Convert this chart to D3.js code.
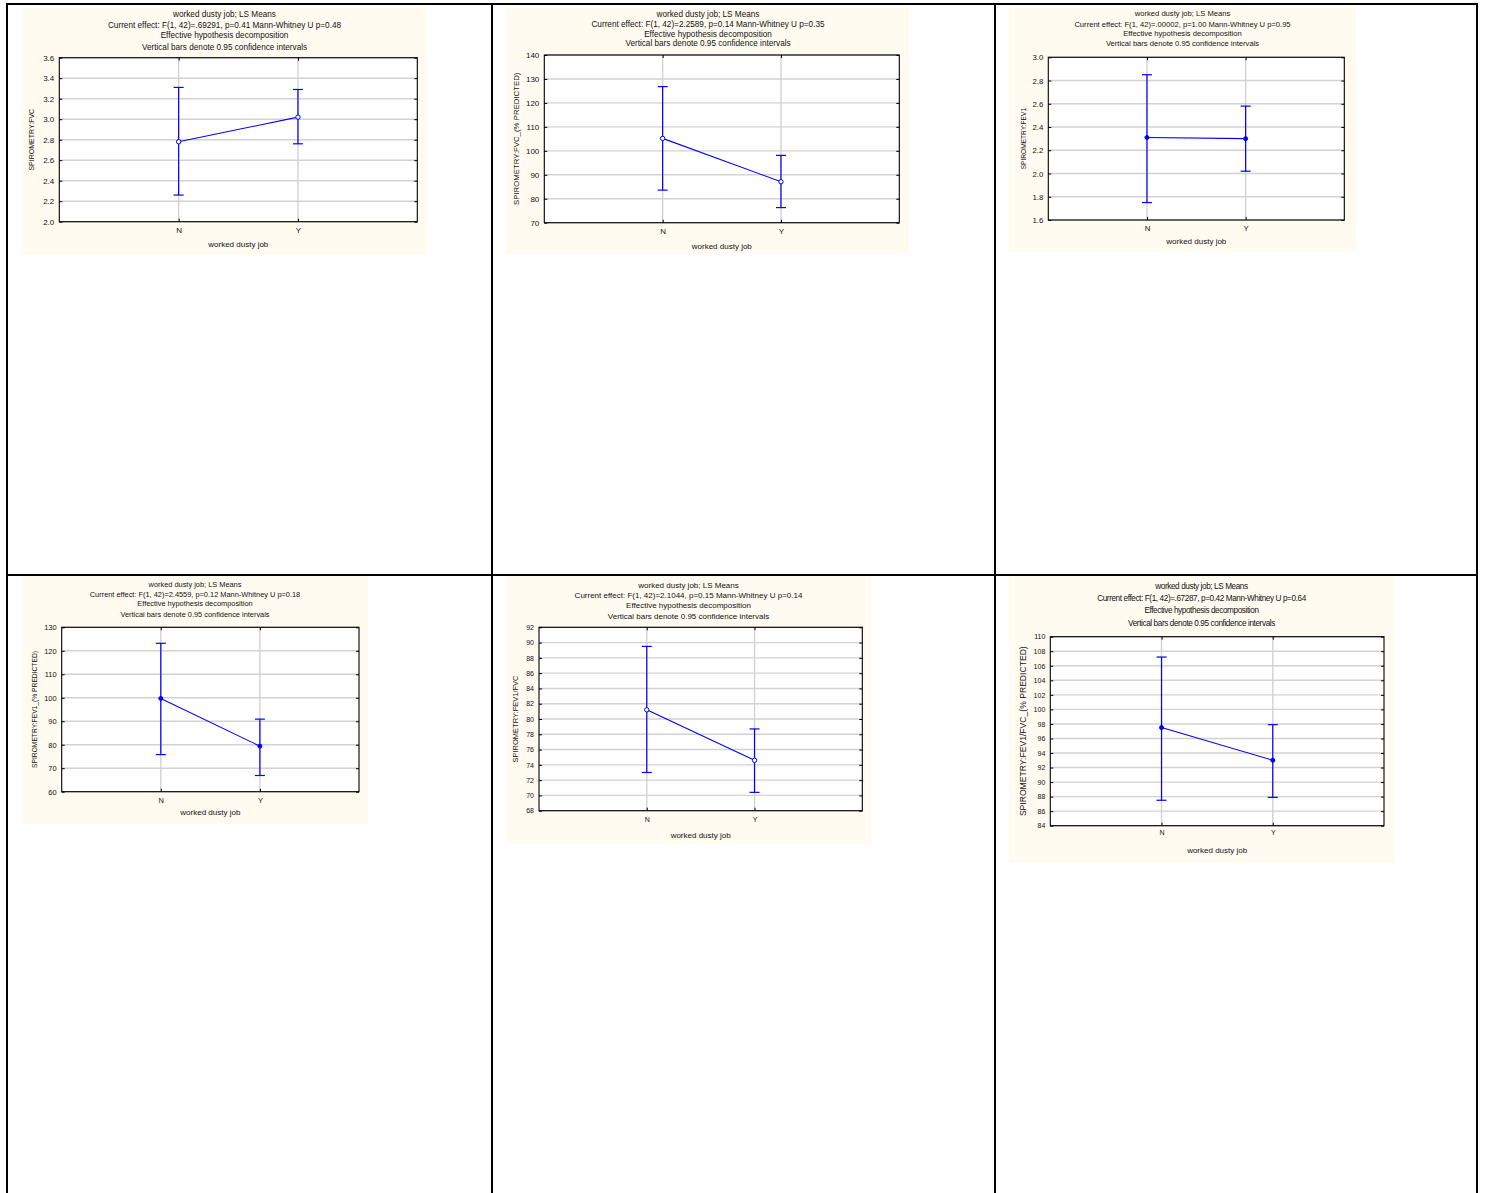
<!DOCTYPE html>
<html>
<head>
<meta charset="utf-8">
<script src="https://cdn.jsdelivr.net/npm/d3@7"></script>
<style>
  body { margin: 0; background: #fff; }
  svg { display: block; font-family: "Liberation Sans", Arial, sans-serif; }
</style>
</head>
<body>
<div id="container"></div>
<script>
//DATA
const categories = ["N", "Y"];
const titleLine = "worked dusty job; LS Means";
const effectLines = [
  "Current effect: F(1, 42)=.69291, p=0.41 Mann-Whitney U p=0.48",
  "Current effect: F(1, 42)=2.2589, p=0.14 Mann-Whitney U p=0.35",
  "Current effect: F(1, 42)=.00002, p=1.00 Mann-Whitney U p=0.95",
  "Current effect: F(1, 42)=2.4559, p=0.12 Mann-Whitney U p=0.18",
  "Current effect: F(1, 42)=2.1044, p=0.15 Mann-Whitney U p=0.14",
  "Current effect: F(1, 42)=.67287, p=0.42 Mann-Whitney U p=0.64"
];
const decompLine = "Effective hypothesis decomposition";
const barsLine = "Vertical bars denote 0.95 confidence intervals";
const xLabel = "worked dusty job";
const yLabels = [
  "SPIROMETRY:FVC",
  "SPIROMETRY:FVC_(% PREDICTED)",
  "SPIROMETRY:FEV1",
  "SPIROMETRY:FEV1_(% PREDICTED)",
  "SPIROMETRY:FEV1/FVC",
  "SPIROMETRY:FEV1/FVC_(% PREDICTED)"
];
// LS means and 0.95 CI, [N, Y]
const means  = [[2.78, 3.02], [105.2, 87.1], [2.31, 2.30], [99.7, 79.4], [81.2, 74.6], [97.5, 93.0]];
const lowers = [[2.26, 2.76], [83.6, 76.3],  [1.75, 2.02], [75.8, 66.9], [73.0, 70.4], [87.5, 87.9]];
const uppers = [[3.31, 3.29], [126.8, 98.1], [2.85, 2.58], [123.2, 90.9], [89.5, 78.7], [107.2, 97.9]];
const yDomains = [[2.0, 3.6], [70, 140], [1.6, 3.0], [60, 130], [68, 92], [84, 110]];
const yTicks = [
  [2.0, 2.2, 2.4, 2.6, 2.8, 3.0, 3.2, 3.4, 3.6],
  [70, 80, 90, 100, 110, 120, 130, 140],
  [1.6, 1.8, 2.0, 2.2, 2.4, 2.6, 2.8, 3.0],
  [60, 70, 80, 90, 100, 110, 120, 130],
  [68, 70, 72, 74, 76, 78, 80, 82, 84, 86, 88, 90, 92],
  [84, 86, 88, 90, 92, 94, 96, 98, 100, 102, 104, 106, 108, 110]
];
const tickFormats = [".1f", "d", ".1f", "d", "d", "d"];

//LAYOUT
const width = 1485, height = 1193;
const panels = [
  {bg: [22, 8, 427, 255], plot: [59.3, 57.7, 417.3, 221.7], titleY: [13.7, 24.7, 35, 46.7],
   tickY: 230.7, xLabY: 244, yLabX: 32, yLabSize: 7, titleSize: 8.2, tickSize: 8, ls: 0, hollow: true},
  {bg: [506, 8, 910, 254], plot: [544.3, 55, 899.3, 222.7], titleY: [13.7, 24, 33.7, 43.3],
   tickY: 231.3, xLabY: 245.7, yLabX: 516, yLabSize: 7.8, titleSize: 8.2, tickSize: 8, ls: 0, hollow: true},
  {bg: [1009, 8, 1356, 252], plot: [1048.3, 57.3, 1344.3, 220], titleY: [13.7, 24, 33.7, 43.3],
   tickY: 228.3, xLabY: 240.7, yLabX: 1024, yLabSize: 6.6, titleSize: 7.6, tickSize: 7.8, ls: 0, hollow: false},
  {bg: [22, 576, 368, 824], plot: [61.7, 627.3, 359, 791.7], titleY: [584, 594, 603.7, 614],
   tickY: 801, xLabY: 812.3, yLabX: 35, yLabSize: 6.7, titleSize: 7.4, tickSize: 7.5, ls: 0, hollow: false},
  {bg: [506, 576, 871, 844], plot: [539, 627.3, 862.3, 810.7], titleY: [584.7, 595, 605.3, 615.7],
   tickY: 820, xLabY: 835, yLabX: 515, yLabSize: 7.5, titleSize: 8, tickSize: 7, ls: 0, hollow: true},
  {bg: [1009, 576, 1394, 863], plot: [1050.3, 636.7, 1384, 825.7], titleY: [586, 598, 610, 623],
   tickY: 833.3, xLabY: 850, yLabX: 1023, yLabSize: 8.6, titleSize: 8.2, tickSize: 7, ls: -0.4, hollow: false}
];

const svg = d3.select("#container")
  .append("svg")
  .attr("width", width)
  .attr("height", height);

svg.append("rect").attr("width", width).attr("height", height).attr("fill", "#fff");

panels.forEach((p, i) => {
  const g = svg.append("g").attr("class", "panel");
  const [bx0, by0, bx1, by1] = p.bg;
  const [px0, py0, px1, py1] = p.plot;

  g.append("rect")
    .attr("x", bx0).attr("y", by0)
    .attr("width", bx1 - bx0).attr("height", by1 - by0)
    .attr("fill", "#fffbf0");

  // titles
  const lines = [titleLine, effectLines[i], decompLine, barsLine];
  g.selectAll("text.title")
    .data(lines)
    .join("text")
    .attr("class", "title")
    .attr("x", (bx0 + bx1) / 2)
    .attr("y", (d, k) => p.titleY[k])
    .attr("dy", "0.35em")
    .attr("text-anchor", "middle")
    .attr("font-size", p.titleSize)
    .attr("letter-spacing", p.ls)
    .attr("fill", "#111")
    .text(d => d);

  const xScale = d3.scalePoint()
    .domain(categories)
    .range([px0, px1])
    .padding(1);

  const yScale = d3.scaleLinear()
    .domain(yDomains[i])
    .range([py1, py0]);

  g.append("rect")
    .attr("x", px0).attr("y", py0)
    .attr("width", px1 - px0).attr("height", py1 - py0)
    .attr("fill", "#fff");

  // grid
  g.selectAll("line.hgrid")
    .data(yTicks[i])
    .join("line")
    .attr("class", "hgrid")
    .attr("x1", px0).attr("x2", px1)
    .attr("y1", d => yScale(d)).attr("y2", d => yScale(d))
    .attr("stroke", "#d2d2d2")
    .attr("stroke-width", 1.4);

  g.selectAll("line.vgrid")
    .data(categories)
    .join("line")
    .attr("class", "vgrid")
    .attr("x1", d => xScale(d)).attr("x2", d => xScale(d))
    .attr("y1", py0).attr("y2", py1)
    .attr("stroke", "#d2d2d2")
    .attr("stroke-width", 1.4);

  // axes
  const yAxis = d3.axisLeft(yScale)
    .tickValues(yTicks[i])
    .tickFormat(d3.format(tickFormats[i]))
    .tickSizeInner(-3)
    .tickSizeOuter(0)
    .tickPadding(5);

  const yAxisGroup = g.append("g")
    .attr("transform", `translate(${px0}, 0)`)
    .call(yAxis);

  const yAxisRight = g.append("g")
    .attr("transform", `translate(${px1}, 0)`)
    .call(d3.axisRight(yScale).tickValues(yTicks[i]).tickSizeInner(-3).tickSizeOuter(0).tickFormat(""));

  const xAxisGroup = g.append("g")
    .attr("transform", `translate(0, ${py1})`)
    .call(d3.axisBottom(xScale).tickSizeInner(-3).tickSizeOuter(0).tickPadding(p.tickY - py1 - 2.9));

  const xAxisTop = g.append("g")
    .attr("transform", `translate(0, ${py0})`)
    .call(d3.axisTop(xScale).tickSizeInner(-3).tickSizeOuter(0).tickFormat(""));

  [yAxisGroup, yAxisRight, xAxisGroup, xAxisTop].forEach(ax => {
    ax.select(".domain").remove();
    ax.selectAll("line").attr("stroke", "#000");
    ax.selectAll("text")
      .attr("font-size", p.tickSize)
      .attr("font-family", "'Liberation Sans', Arial, sans-serif")
      .attr("fill", "#111");
  });

  g.append("rect")
    .attr("x", px0).attr("y", py0)
    .attr("width", px1 - px0).attr("height", py1 - py0)
    .attr("fill", "none")
    .attr("stroke", "#000")
    .attr("stroke-width", 1.1);

  // axis titles
  g.append("text")
    .attr("x", (px0 + px1) / 2)
    .attr("y", p.xLabY)
    .attr("dy", "0.35em")
    .attr("text-anchor", "middle")
    .attr("font-size", 8)
    .attr("fill", "#111")
    .text(xLabel);

  g.append("text")
    .attr("transform", `translate(${p.yLabX}, ${(py0 + py1) / 2}) rotate(-90)`)
    .attr("dy", "0.35em")
    .attr("text-anchor", "middle")
    .attr("font-size", p.yLabSize)
    .attr("fill", "#111")
    .text(yLabels[i]);

  // data rows
  const rows = categories.map((c, k) => ({cat: c, mean: means[i][k], lo: lowers[i][k], hi: uppers[i][k]}));
  const blue = "#0000ff";

  g.selectAll("line.err")
    .data(rows)
    .join("line")
    .attr("class", "err")
    .attr("x1", d => xScale(d.cat)).attr("x2", d => xScale(d.cat))
    .attr("y1", d => yScale(d.lo)).attr("y2", d => yScale(d.hi))
    .attr("stroke", blue).attr("stroke-width", 1.2);

  ["lo", "hi"].forEach(key => {
    g.selectAll("line.cap-" + key)
      .data(rows)
      .join("line")
      .attr("class", "cap-" + key)
      .attr("x1", d => xScale(d.cat) - 5).attr("x2", d => xScale(d.cat) + 5)
      .attr("y1", d => yScale(d[key])).attr("y2", d => yScale(d[key]))
      .attr("stroke", blue).attr("stroke-width", 1.2);
  });

  const lineGen = d3.line()
    .x(d => xScale(d.cat))
    .y(d => yScale(d.mean));

  g.append("path")
    .datum(rows)
    .attr("d", lineGen)
    .attr("fill", "none")
    .attr("stroke", blue)
    .attr("stroke-width", 1.1);

  g.selectAll("circle.pt")
    .data(rows)
    .join("circle")
    .attr("class", "pt")
    .attr("cx", d => xScale(d.cat))
    .attr("cy", d => yScale(d.mean))
    .attr("r", p.hollow ? 2.2 : 2)
    .attr("fill", p.hollow ? "#fff" : blue)
    .attr("stroke", blue)
    .attr("stroke-width", 1);
});

// table grid
const border = svg.append("g").attr("stroke", "#000").attr("stroke-width", 2);
const colX = [7, 492, 995, 1477];
const rowY = [4, 575];
border.selectAll("line.col")
  .data(colX)
  .join("line")
  .attr("x1", d => d).attr("x2", d => d)
  .attr("y1", 3).attr("y2", height);
border.selectAll("line.row")
  .data(rowY)
  .join("line")
  .attr("x1", 6).attr("x2", 1478)
  .attr("y1", d => d).attr("y2", d => d);
</script>
</body>
</html>
